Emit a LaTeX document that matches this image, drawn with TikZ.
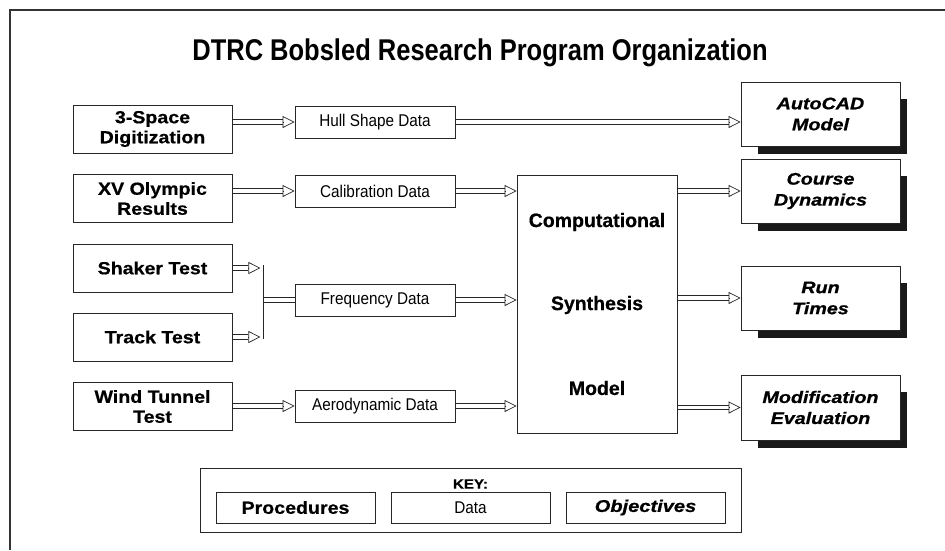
\documentclass[tikz,border=0pt]{standalone}
\usepackage{fontspec}
\setmainfont{Liberation Sans}
\newfontfamily\titlefont[FakeStretch=0.85]{Liberation Sans Bold}
\newfontfamily\procfont[FakeStretch=1.12,FakeBold=0.6]{Liberation Sans Bold}
\newfontfamily\objfont[FakeStretch=1.18,FakeBold=0.8]{Liberation Sans Bold Italic}
\newfontfamily\datafont[FakeStretch=0.9]{Liberation Sans}
\newfontfamily\compfont[FakeStretch=1.0,FakeBold=0.6]{Liberation Sans Bold}
\usetikzlibrary{arrows.meta,calc,backgrounds}
\pgfdeclarelayer{bottom}
\pgfsetlayers{bottom,background,main}
\tikzset{
  box/.style={draw=black!85, line width=0.8pt, fill=white, inner sep=0pt, align=center},
  proc/.style={box, minimum width=159pt, minimum height=48pt, font=\procfont\fontsize{17.5}{20}\selectfont},
  data/.style={box, minimum width=160pt, minimum height=32pt, font=\datafont\fontsize{17}{20}\selectfont},
  obj/.style={box, minimum width=159pt, minimum height=64pt, font=\objfont\fontsize{16.7}{21}\selectfont},
  comptext/.style={font=\compfont\fontsize{19.5}{23}\selectfont, inner sep=0pt},
  shaftline/.style={draw=black!85, line width=0.7pt},
  head/.style={draw=black!85, line width=0.7pt, -{Triangle[open, length=12pt, width=12pt]}},
  joinline/.style={draw=black!85, line width=0.8pt},
}
% double-line connector with open triangular head: from coordinate #1 to coordinate #2
\newcommand\dblarrow[2]{%
  \draw[shaftline] ($(#1)+(0,-2.2)$) -- ($(#2)+(-12,-2.2)$)
                   ($(#1)+(0,2.2)$) -- ($(#2)+(-12,2.2)$);
  \draw[head] ($(#2)+(-12,0)$) -- (#2);
}
\begin{document}
\begin{tikzpicture}[x=1pt,y=-1pt]
\useasboundingbox (0,0) rectangle (945,550);
\begin{pgfonlayer}{bottom}
\fill[white] (0,0) rectangle (945,550);
\end{pgfonlayer}
\draw[line width=1.2pt, black!80] (10,550) -- (10,10) -- (950,10);

\node[anchor=base, font=\titlefont\fontsize{30}{36}\selectfont, inner sep=0pt] (title) at (480,60) {DTRC Bobsled Research Program Organization};

% procedures
\node[proc] (p1) at (152.5,129) {3-Space\\Digitization};
\node[proc] (p2) at (152.5,198.5) {XV Olympic\\Results};
\node[proc] (p3) at (152.5,268) {Shaker Test};
\node[proc] (p4) at (152.5,337) {Track Test};
\node[proc] (p5) at (152.5,406.5) {Wind Tunnel\\Test};

% data
\node[data] (d1) at (375,122) {Hull Shape Data};
\node[data] (d2) at (375,191) {Calibration Data};
\node[data] (d3) at (375,300) {Frequency Data};
\node[data] (d4) at (375,406) {Aerodynamic Data};

% computational synthesis model
\node[box, minimum width=160pt, minimum height=258pt] (comp) at (597,304) {};
\node[comptext] (c1) at (597,222) {Computational};
\node[comptext] (c2) at (597,305) {Synthesis};
\node[comptext] (c3) at (597,388) {Model};

% objectives
\node[obj] (o1) at (820.5,114) {AutoCAD\\Model};
\node[obj] (o2) at (820.5,191) {Course\\Dynamics};
\node[obj] (o3) at (820.5,298) {Run\\Times};
\node[obj, minimum height=65pt] (o4) at (820.5,407.5) {Modification\\Evaluation};

\begin{scope}[on background layer]
\foreach \o in {o1,o2,o3,o4}
  \fill[black!90] ($(\o.north west)+(17,17)$) rectangle ($(\o.south east)+(7,8)$);
\end{scope}

% connector end points
\coordinate (a1) at (p1.east |- d1.west);
\coordinate (a2) at (p2.east |- d2.west);
\coordinate (a5) at (p5.east |- d4.west);
\coordinate (t1) at (d1.east -| o1.west);
\coordinate (t2) at (d2.east -| comp.west);
\coordinate (t3) at (d3.east -| comp.west);
\coordinate (t4) at (d4.east -| comp.west);
\coordinate (s1) at ($(p3.east)+(28,0)$);
\coordinate (s2) at ($(p4.east)+(28,0)$);
\coordinate (jtop) at ($(p3.east)+(31,-3)$);
\coordinate (jbot) at ($(p4.east)+(31,2)$);
\coordinate (jmid) at (jtop |- d3.west);
\coordinate (u2) at (comp.east |- o2.west);
\coordinate (u3) at (comp.east |- o3.west);
\coordinate (u4) at (comp.east |- o4.west);

% connectors
\dblarrow{a1}{d1.west}
\dblarrow{a2}{d2.west}
\dblarrow{a5}{d4.west}
\dblarrow{d1.east}{t1}
\dblarrow{d2.east}{t2}
\dblarrow{d3.east}{t3}
\dblarrow{d4.east}{t4}
\dblarrow{p3.east}{s1}
\dblarrow{p4.east}{s2}
\draw[joinline] (jtop) -- (jbot);
\draw[shaftline] ($(jmid)+(0,-2.2)$) -- ($(d3.west)+(0,-2.2)$)
                 ($(jmid)+(0,2.2)$) -- ($(d3.west)+(0,2.2)$);
\dblarrow{u2}{o2.west}
\dblarrow{u3}{o3.west}
\dblarrow{u4}{o4.west}

% key
\node[box, minimum width=541pt, minimum height=64pt] (key) at (470.5,500) {};
\node[font=\procfont\fontsize{13.5}{15}\selectfont, inner sep=0pt] (keylbl) at (470.5,484) {KEY:};
\node[box, minimum width=159pt, minimum height=31pt, font=\procfont\fontsize{17.5}{20}\selectfont] (k1) at (295.5,507.5) {Procedures};
\node[box, minimum width=159pt, minimum height=31pt, font=\datafont\fontsize{17}{20}\selectfont] (k2) at (470.5,507.5) {Data};
\node[box, minimum width=159pt, minimum height=31pt, font=\objfont\fontsize{17}{20}\selectfont] (k3) at (645.5,507.5) {Objectives};
\end{tikzpicture}
\end{document}
